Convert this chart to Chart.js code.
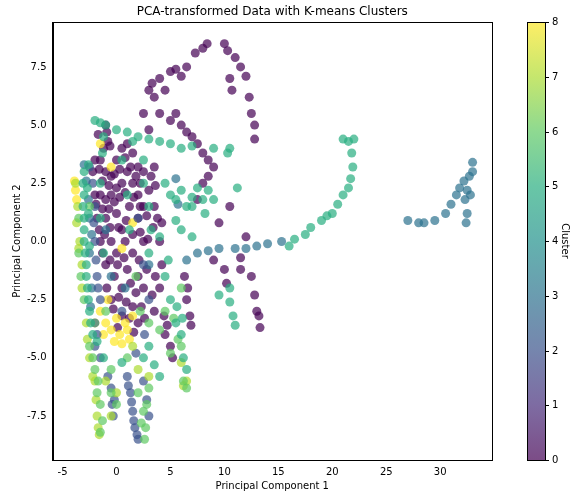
<!DOCTYPE html>
<html><head><meta charset="utf-8">
<script src="https://cdn.jsdelivr.net/npm/chart.js@4"></script>
<style>html,body{margin:0;background:#fff}#w{width:583px;height:496px}</style>
</head><body><div id="w"><canvas id="c"></canvas></div>
<script>
const clusterNames=[0,1,2,3,4,5,6,7,8];
const clusterColors=['#440154','#472d7b','#3b528b','#2c728e','#21918c','#28ae80','#5ec962','#addc30','#fde725'];
const xTicks=[-5,0,5,10,15,20,25,30];
const yTicks=[-7.5,-5,-2.5,0,2.5,5,7.5];
const c5=[[-2,5.2],[-1.5,5.1],[-1,5],[0,4.8],[1,4.7],[2,4.5],[3,4.4],[4,4.3],[5,4.2],[6,4],[7,4.1],[9,4],[10.5,4],[10.3,3.8],[-3,3],[-3,2],[-3,1],[-3,0],[-2.8,-1],[-2.7,-2],[-2.5,-3],[-2.2,-4],[-3.1,2.5],[-3.1,1.5],[-3.0,0.5],[-2.9,-0.5],[-2.8,-1.5],[-2.6,-2.5],[-2.4,-3.5],[-2.6,3.3],[-2.7,2.3],[-2.6,1.2],[-2.5,-0.2],[-1.5,2.5],[-1.5,1],[-1.2,-0.5],[-1.3,3.8],[-1.2,4.5],[0.5,3.5],[1,2],[1.2,0.5],[1.5,4.3],[2.5,3.5],[2.5,2.5],[3,1.5],[3.2,0.5],[3,-0.5],[4.5,2.5],[5,2],[5.5,1.8],[6,2.2],[6.5,1.5],[7,1.9],[7.5,2.3],[8,1.8],[8.5,2.2],[7,1.5],[8.2,1.2],[9,1.8],[6,0.5],[5.5,0.9],[7,0.2],[4,0.2],[4.5,-1.5],[5,-2.5],[5.5,-3.5],[6,-4],[6.2,-5],[6.5,-5.5],[3,-4.5],[3.5,-5.3],[4,-5.8],[2.5,-5],[-1.8,-4.3],[-1.2,-5],[0.5,-5.2],[21,4.4],[21.5,4.3],[22,4.4],[21.8,3.8],[21.9,3.2],[21.7,2.7],[21.5,2.3],[21,2],[20.5,1.6],[20,1.2],[19.5,1.1],[19,0.9],[18,0.6],[17.5,0.3],[16.5,0.1],[16,-0.2],[10.5,-2],[10.5,-2.6],[10.8,-3.2],[11,-3.6],[9.5,-2.3],[11.2,2.3],[4.8,-0.8],[5.6,-2.8],[6.1,-3.3]];
const c6=[[-3.5,1],[-3.5,-0.5],[-3.3,-1.5],[-3,-2.5],[-2.5,-4.5],[-2,-5.5],[-1.8,-6.5],[-1.5,-7],[-1.3,-7.7],[-1.5,-8.2],[-0.5,-5.5],[-0.5,-6.5],[0,-7],[1,-5],[2,-6.5],[2.3,-7.8],[2.6,-8.5],[2.8,-7],[2.2,-3],[3,-3.5],[4.5,-3],[5,-4.8],[6,-4.5],[6.2,-6],[6.5,-6.3],[1.8,-1.5],[6,-2],[-2.5,1.5],[-1,-3],[-2.2,-5],[-1.7,-6],[2.5,-7.3],[2.7,-8],[3,-6.3],[4,-3.8],[5.3,-3.3],[5.7,-4.2]];
const c7=[[-3.8,2.5],[-3.6,1.5],[-3.4,0],[-3.2,-1],[-2.8,-3.5],[-2.5,-5],[-2,-6],[-1.8,-7.5],[-1.6,-8.3],[-1,-6],[-0.5,-7.5],[0,-6.5],[1.5,-4.5],[2,-5.5],[3,-5.8],[6.2,-6.2],[6.5,-6],[6,-5.2],[-3.7,0.8],[-3.5,-0.3],[-3.2,-2],[-2.7,-4.2],[-2.2,-5.8],[-1.9,-6.8],[-1.7,-8]];
const c8=[[-3.9,2.6],[-3.8,2.2],[-3.7,1.8],[-1.5,4.2],[-0.5,3.2],[0.5,-0.3],[1.5,0.8],[-1.5,-3],[-1,-3.5],[-0.5,-3.8],[0,-3.3],[0.3,-4],[0.5,-4.4],[1,-3.8],[-2,-3.5],[-0.8,-2.5],[1.5,-3.2],[-0.2,-4.3],[0.8,-3.5],[1.2,-4.2],[-1.2,-4]];
const c2=[[-2.5,3.2],[-2,1.5],[-2,0],[-1.8,-1.5],[-1.5,-2.5],[-2,-4.5],[-1.5,-5],[-0.8,-5.8],[-0.5,-6.3],[-0.2,-6.8],[-0.3,-7.5],[1,-5.8],[1.3,-6.5],[1.5,-7.3],[1.7,-8],[2,-8.5],[2.5,-6],[2.8,-6.8],[3,-7.5],[0.5,-3],[1.8,-4.8],[3,-2.5],[2,1],[-2.2,2.5],[-2.1,0.8],[-1.9,-0.8],[-1.7,-2],[-1.8,-4],[1.1,-6.2],[1.4,-6.9],[1.6,-7.7],[1.9,-8.3],[-0.4,-7],[2.6,-4],[2.5,-1]];
const c3=[[-3,3.3],[-2.8,2.6],[-2.5,1],[-2.5,-0.5],[-2.3,-2],[-2,-3.5],[-1,0.5],[-0.5,-1.5],[0.8,-2],[3,-1],[-2.4,-2.8],[-2.3,0.3],[-2.6,1.8],[6.5,-0.8],[7.5,-0.5],[8.5,-0.4],[9.5,-0.3],[11,-0.3],[12,-0.3],[13,-0.2],[14,-0.1],[15.3,0],[27,0.9],[28,0.8],[28.5,0.8],[29.5,0.9],[30.5,1.2],[31,1.6],[31.5,2],[31.8,2.3],[32.2,2.6],[32.5,2.2],[32.3,1.8],[32.5,1.2],[32.4,0.8],[32.7,2.8],[33,3],[33,3.4],[32.8,2],[5.5,2.7],[5.7,1.6]];
const c0=[[3,6.5],[3.3,6.8],[4,7],[5,7.3],[5.5,7.4],[6,7.1],[6.5,7.5],[7.3,8.1],[8,8.3],[8.4,8.5],[10,8.5],[10.3,8.2],[11,7.9],[11.5,7.5],[12,7.1],[12.3,6.2],[12.5,5.5],[12.8,5],[12.8,4.4],[10.5,7],[10.7,6.5],[3.5,6.2],[4.5,6.5],[2.5,5.5],[3,4.8],[4,5.5],[5,5.2],[5.5,5.5],[6,5],[6.5,4.7],[7,4.5],[7.5,4.2],[8,3.8],[8.5,3.5],[9,3.2],[8.5,2.8],[8,2.5],[7.5,1.8],[10.5,1.5],[9.5,0.8],[-1,5],[-0.8,4.3],[-1.2,4],[-2,3.5],[-2.2,3],[-1.5,3.5],[-1,3],[-0.5,2.8],[0,3.5],[0.5,4],[1,4.2],[1.5,3.8],[2,3.2],[2.5,3],[-2,2],[-1.5,2],[-1,1.8],[-0.5,2],[0,2.3],[0.5,2.5],[1,3],[1.5,2.5],[2,2],[2.5,1.5],[-1.8,1],[-1,1],[0,1.2],[0.5,0.5],[1.2,1.5],[2,1],[3,2.2],[3.5,1.5],[-1.5,0],[-0.5,0],[0,-0.5],[0.8,0],[1.5,-0.5],[2.5,0],[-1,-1],[-0.2,-1.5],[0.5,-2],[1,-1.2],[2,-1.5],[2.5,-2],[-0.5,-2.5],[0.5,-3.2],[1.5,-2.8],[2,-3.5],[3.5,-3],[4,-2],[4.2,-1],[4,0],[3.8,1],[3.5,3.2],[3.2,2.8],[6.5,-2.5],[6.8,-3.2],[6.3,-1.5],[4.5,-4],[5,-4.5],[10,-1.2],[10.2,-1.8],[11.5,-1.2],[12.5,-1.5],[12.8,-2.3],[13,-3],[13.3,-3.7],[13.2,-3.2],[12,0.2],[9,-0.8],[11.5,-0.7],
[-1.7,4.6],[-0.9,4.7],[-0.6,4.1],[-1.6,3.1],[-1.3,2.6],[-0.7,2.4],[-0.2,2.9],[0.3,3.1],[0.8,3.6],[1.3,3.2],[1.8,2.8],[2.2,2.5],[-1.9,1.6],[-1.3,1.4],[-0.7,1.4],[-0.2,1.7],[0.3,1.9],[0.8,2.1],[1.6,1.9],[2.2,1.5],[2.8,1.1],[-1.6,0.5],[-1.1,0.3],[-0.6,0.6],[0.2,0.6],[0.9,0.9],[1.5,0.3],[2.2,0.4],[2.9,0.1],[-1.3,-0.5],[-0.6,-0.8],[0.1,-1],[0.7,-0.7],[1.3,-1.8],[2.1,-0.8],[2.8,-1.2],[-0.9,-2],[-0.3,-2.9],[0.2,-2.4],[0.9,-2.6],[1.2,-3.3],[1.8,-2.2],[2.3,-2.8],[2.6,-3.3],[0.1,-3.7],[1.6,-3.9],[3.3,-2.3],[3.6,-1.5],[3.4,0.6],[3.6,2.4],[4.2,0.8],[4.4,-3.2],[4.7,-3.6],[5.2,-5],[6.6,-2],[6.9,-3.6]];
const groups=[[c5,5],[c6,6],[c7,7],[c2,2],[c3,3],[c8,8],[c0,0]];
function rgba(h,a){const n=parseInt(h.slice(1),16);return `rgba(${n>>16},${(n>>8)&255},${n&255},${a})`;}
const datasets=groups.map(([pts,k])=>({label:'Cluster '+clusterNames[k],data:pts.map(p=>({x:p[0],y:p[1]})),backgroundColor:rgba(clusterColors[k],0.7),borderWidth:0,pointRadius:4.5}));
const deco={id:'deco',afterDraw(ch){const ctx=ch.ctx,ca=ch.chartArea;const top=ca.top,bot=ca.bottom;const x=527,w=18;const g=ctx.createLinearGradient(0,bot,0,top);clusterColors.forEach((c,i)=>g.addColorStop(i/8,rgba(c,0.7)));ctx.save();ctx.fillStyle=g;ctx.fillRect(x,top,w,bot-top);ctx.strokeStyle='#000';ctx.lineWidth=1;ctx.strokeRect(x+0.5,Math.round(top)+0.5,w,Math.round(bot-top));
ctx.fillStyle='#000';ctx.font='10px "DejaVu Sans"';ctx.textAlign='left';ctx.textBaseline='middle';
clusterNames.forEach(v=>{const y=Math.round(bot-(v/8)*(bot-top))+0.5;ctx.beginPath();ctx.moveTo(x+w,y);ctx.lineTo(x+w+4,y);ctx.stroke();ctx.fillText(String(v),x+w+7,y);});
ctx.save();ctx.translate(565,(top+bot)/2);ctx.rotate(Math.PI/2);ctx.textAlign='center';ctx.fillText('Cluster',0,0);ctx.restore();
ctx.strokeRect(Math.round(ca.left)+0.5,Math.round(ca.top)+0.5,Math.round(ca.right-ca.left),Math.round(ca.bottom-ca.top));
ctx.font='12px "DejaVu Sans"';ctx.textAlign='center';ctx.fillText('PCA-transformed Data with K-means Clusters',(ca.left+ca.right)/2,12);ctx.restore();}};
new Chart(document.getElementById('c'),{type:'scatter',data:{datasets},plugins:[deco],options:{responsive:true,maintainAspectRatio:false,animation:false,layout:{padding:{left:7,right:91,top:22,bottom:0}},
plugins:{legend:{display:false},tooltip:{enabled:false},title:{display:false}},
scales:{x:{type:'linear',min:-5.93,max:34.8,afterBuildTicks(a){a.ticks=xTicks.map(v=>({value:v}));},grid:{display:false,drawTicks:true,tickLength:4},border:{color:'#000'},ticks:{color:'#000',font:{family:'DejaVu Sans',size:10},padding:2,maxRotation:0},title:{display:true,text:'Principal Component 1',color:'#000',font:{family:'DejaVu Sans',size:10},padding:{top:0}}},
y:{type:'linear',min:-9.39,max:9.43,afterBuildTicks(a){a.ticks=yTicks.map(v=>({value:v}));},grid:{display:false,tickLength:4},border:{color:'#000'},ticks:{color:'#000',font:{family:'DejaVu Sans',size:10},padding:2,callback:v=>v.toFixed(1)},title:{display:true,text:'Principal Component 2',color:'#000',font:{family:'DejaVu Sans',size:10},padding:{bottom:2}}}}}});
</script>
</body></html>
